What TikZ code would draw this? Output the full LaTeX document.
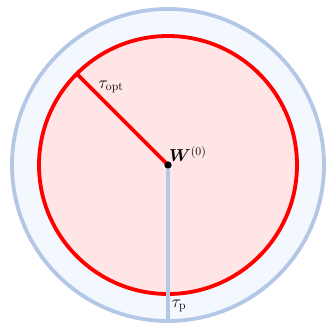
\documentclass[tikz,border=0pt]{standalone}
\usepackage{amsmath,amssymb,bm}
\definecolor{ringblue}{HTML}{B4C7E7}
\definecolor{ringfill}{HTML}{F2F8FE}
\definecolor{ballfill}{HTML}{FFE5E5}
\begin{document}
\begin{tikzpicture}[x=1pt,y=1pt,font=\LARGE]
    \def\rout{156}
    \def\rin{129}
    \useasboundingbox (-168,-159) rectangle (158,165);
    % outer ring (tau_p)
    \draw[ringblue,line width=3.8pt,fill=ringfill] (0,0) circle (\rout);
    % inner ball (tau_opt)
    \draw[red,line width=3.8pt,fill=ballfill] (0,0) circle (\rin);
    % radii
    \coordinate (optend) at (135:\rin);
    \coordinate (pend) at (270:\rout);
    \node[circle,fill=black,inner sep=0pt,minimum size=7pt] (w0) at (0,0) {};
    \draw[ringblue,line width=3.8pt] (w0.center) -- (pend);
    \draw[red,line width=3.8pt] (w0.center) -- (optend);
    \fill (w0.center) circle (3.5pt);
    \node[anchor=south west,inner sep=1pt] (wlbl) at (0,2) {$\boldsymbol{W}^{(0)}$};
    \node (optlbl) at (-57,78) {$\tau_{\mathrm{opt}}$};
    \node (plbl) at (11,-141) {$\tau_{\mathrm{p}}$};
  \end{tikzpicture}
\end{document}
